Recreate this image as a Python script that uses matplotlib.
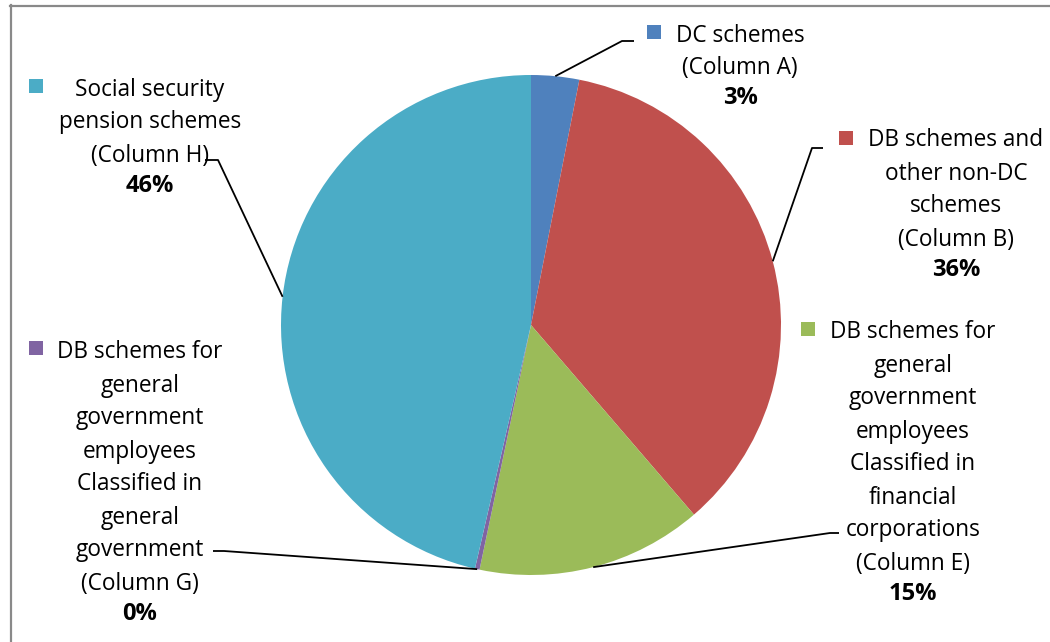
import numpy as np
import matplotlib
import matplotlib.pyplot as plt
from matplotlib.patches import Rectangle
from matplotlib.lines import Line2D

matplotlib.use('agg')

# share of pension entitlements by scheme type (percent)
categories = ["DC schemes", "DB schemes and other non-DC schemes",
              "DB schemes for general government employees (financial corporations)",
              "DB schemes for general government employees (general government)",
              "Social security pension schemes"]
shares = [3.1, 35.6, 14.6, 0.3, 46.4]
colors = ['#4F81BD', '#C0504D', '#9BBB59', '#8064A2', '#4BACC6']
label_lines = [
    ["DC schemes", "(Column A)"],
    ["DB schemes and", "other non-DC", "schemes", "(Column B)"],
    ["DB schemes for", "general", "government", "employees", "Classified in",
     "financial", "corporations", "(Column E)"],
    ["DB schemes for", "general", "government", "employees", "Classified in",
     "general", "government", "(Column G)"],
    ["Social security", "pension schemes", "(Column H)"],
]

W, H = 1050, 642
CX, CY, R = 531, 325, 250

# label layout in pixel space (y measured from the top)
text_x = [740, 956, 913, 140, 150]
text_y0 = [34, 139, 331, 351, 88]
key_xy = [(654, 32), (846, 138), (808, 329), (36, 348), (36, 86)]
elbow = [(622, 41), (812, 148), (830, 533), (224, 551), (218, 160)]
line_end = [(634, 41), (823, 148), (839, 533), (213, 551), (205, 160)]
STEP, PCT_STEP = 33, 30

plt.rcParams['font.family'] = ['Open Sans', 'DejaVu Sans']


def fy(y):
    return H - y


fig = plt.figure(figsize=(W / 100, H / 100), dpi=100)
ax = fig.add_axes([0, 0, 1, 1])
wedges, _ = ax.pie(shares, colors=colors, startangle=90, counterclock=False,
                   center=(CX, fy(CY)), radius=R, frame=False,
                   wedgeprops=dict(linewidth=0))
ax.set_xlim(0, W)
ax.set_ylim(0, H)
ax.set_aspect('equal')
ax.axis('off')

fs = 16.3
for i, w in enumerate(wedges):
    mid = np.deg2rad((w.theta1 + w.theta2) / 2)
    sx = CX + R * np.cos(mid)
    sy = fy(CY) + R * np.sin(mid)
    ax.plot([sx, elbow[i][0], line_end[i][0]],
            [sy, fy(elbow[i][1]), fy(line_end[i][1])],
            color='black', lw=1.3, solid_capstyle='butt', zorder=3)

    y = text_y0[i]
    for line in label_lines[i]:
        ax.text(text_x[i], fy(y + 7.5), line, ha='center', va='baseline',
                fontsize=fs, color='black')
        y += STEP
    y += PCT_STEP - STEP
    ax.text(text_x[i], fy(y + 7.5), f"{round(shares[i])}%", ha='center',
            va='baseline', fontsize=fs + 0.7, fontweight='bold', color='black')

    kx, ky = key_xy[i]
    ax.add_patch(Rectangle((kx - 7, fy(ky) - 7), 14, 14, color=colors[i],
                           lw=0, zorder=4))

# chart area border (top and left edges visible)
fig.add_artist(Line2D([10 / W, 1], [1 - 5.5 / H, 1 - 5.5 / H], color='#898989',
                      lw=1.6, transform=fig.transFigure))
fig.add_artist(Line2D([10.5 / W, 10.5 / W], [0, 1 - 5 / H], color='#898989',
                      lw=1.6, transform=fig.transFigure))

fig.savefig('out.png', dpi=100)
